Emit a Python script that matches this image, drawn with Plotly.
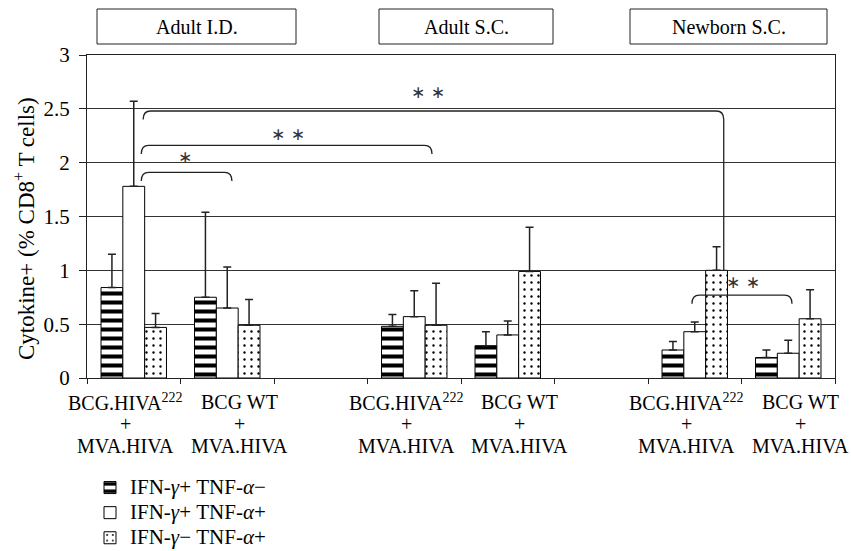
import plotly.graph_objects as go

# ---------------- data ----------------
tick_labels = [
    "BCG.HIVA<sup>222</sup><br>+<br>MVA.HIVA",
    "BCG WT<br>+<br>MVA.HIVA",
    "",
    "BCG.HIVA<sup>222</sup><br>+<br>MVA.HIVA",
    "BCG WT<br>+<br>MVA.HIVA",
    "",
    "BCG.HIVA<sup>222</sup><br>+<br>MVA.HIVA",
    "BCG WT<br>+<br>MVA.HIVA",
]
x_pos = [0, 1, 2, 3, 4, 5, 6, 7]

series_names = [
    "IFN-<i>γ</i>+ TNF-<i>α</i>−",
    "IFN-<i>γ</i>+ TNF-<i>α</i>+",
    "IFN-<i>γ</i>− TNF-<i>α</i>+",
]
ifn_pos_tnf_neg = [0.84, 0.75, None, 0.48, 0.30, None, 0.26, 0.19]
ifn_pos_tnf_pos = [1.78, 0.65, None, 0.57, 0.40, None, 0.43, 0.23]
ifn_neg_tnf_pos = [0.47, 0.49, None, 0.49, 0.99, None, 1.00, 0.55]

# upper ends of the error bars
ifn_pos_tnf_neg_hi = [1.15, 1.54, None, 0.59, 0.43, None, 0.34, 0.26]
ifn_pos_tnf_pos_hi = [2.57, 1.03, None, 0.81, 0.53, None, 0.52, 0.35]
ifn_neg_tnf_pos_hi = [0.60, 0.73, None, 0.88, 1.40, None, 1.22, 0.82]

group_titles = ["Adult I.D.", "Adult S.C.", "Newborn S.C."]

y_title = "Cytokine+ (% CD8<sup>+</sup> T cells)"

# significance brackets: (x_left, x_right, y_top, y_left_end, y_right_end, label, label_x, label_y)
brackets = [
    (0.08, 1.05, 1.91, 1.83, 1.83, "∗", 0.55, 2.05),
    (0.08, 3.19, 2.16, 2.08, 2.08, "∗ ∗", 1.65, 2.27),
    (0.10, 6.31, 2.48, 2.40, 1.00, "∗ ∗", 3.15, 2.66),
    (5.97, 7.04, 0.77, 0.69, 0.69, "∗ ∗", 6.52, 0.89),
]

# ---------------- figure ----------------
FONT = "Liberation Serif"
W, H = 851, 551
ML, MR, MT, MB = 87, 16, 55, 173

values = [ifn_pos_tnf_neg, ifn_pos_tnf_pos, ifn_neg_tnf_pos]
highs = [ifn_pos_tnf_neg_hi, ifn_pos_tnf_pos_hi, ifn_neg_tnf_pos_hi]
patterns = [
    dict(shape="-", fgcolor="black", bgcolor="white", size=9, solidity=0.45, fillmode="replace"),
    dict(shape="", fgcolor="black", bgcolor="white"),
    dict(shape=".", fgcolor="black", bgcolor="white", size=7, solidity=0.09, fillmode="replace"),
]

fig = go.Figure()
for i, (name, v, hi, pat) in enumerate(zip(series_names, values, highs, patterns)):
    err = [None if (a is None or b is None) else b - a for a, b in zip(v, hi)]
    fig.add_trace(go.Bar(
        x=x_pos, y=v, name=f'<span style="font-size:21px">{name}</span>',
        marker=dict(color="white", line=dict(color="black", width=1), pattern=pat),
        error_y=dict(type="data", array=err, symmetric=False,
                     arrayminus=[0] * len(err), color="#222", thickness=1.5, width=4),
        legendgroup=f"g{i}",
    ))


def px_to_paper_x(px):
    return (px - ML) / (W - ML - MR)


def px_to_paper_y(py):
    return (H - MB - py) / (H - MT - MB)


# top group boxes (pixel geometry)
box_px = [(97, 296), (379, 553), (630, 827)]
for (x0, x1), title in zip(box_px, group_titles):
    fig.add_shape(type="rect", xref="paper", yref="paper",
                  x0=px_to_paper_x(x0), x1=px_to_paper_x(x1),
                  y0=px_to_paper_y(44), y1=px_to_paper_y(9),
                  line=dict(color="#222", width=1), fillcolor="white")
    fig.add_annotation(xref="paper", yref="paper",
                       x=px_to_paper_x((x0 + x1) / 2), y=px_to_paper_y(27),
                       xanchor="center", yanchor="middle",
                       text=title, showarrow=False,
                       font=dict(family=FONT, size=20, color="black"))

# category labels under the axis (one annotation per line, tight line spacing)
LINE_Y = [402, 424, 446]
for xp, lab in zip(x_pos, tick_labels):
    if not lab:
        continue
    shift = -8 if "HIVA<sup>" in lab else 12
    for k, line in enumerate(lab.split("<br>")):
        fig.add_annotation(x=xp, xref="x", y=px_to_paper_y(LINE_Y[k]), yref="paper",
                           xanchor="center", yanchor="middle", xshift=shift,
                           text=line, showarrow=False,
                           font=dict(family=FONT, size=20, color="black"))

# y axis title
fig.add_annotation(xref="paper", yref="paper", x=px_to_paper_x(24), y=px_to_paper_y(229),
                   xanchor="center", yanchor="middle", textangle=-90,
                   text=y_title, showarrow=False,
                   font=dict(family=FONT, size=23, color="black"))

# brackets
for (xl, xr, yt, yl, yr, lab, lx, ly) in brackets:
    dx, hh = 0.08, 0.08
    path = (f"M {xl},{yl} L {xl},{yt - hh} Q {xl},{yt} {xl + dx},{yt} "
            f"L {xr - dx},{yt} Q {xr},{yt} {xr},{yt - hh} L {xr},{yr}")
    fig.add_shape(type="path", xref="x", yref="y", path=path,
                  line=dict(color="#222", width=1.3))
    fig.add_annotation(x=lx, y=ly, xref="x", yref="y", text=lab, showarrow=False,
                       font=dict(family="DejaVu Sans", size=17, color="#333"))

fig.update_layout(
    width=W, height=H,
    margin=dict(l=ML, r=MR, t=MT, b=MB, autoexpand=False),
    paper_bgcolor="white", plot_bgcolor="white",
    barmode="group", bargap=0.3, bargroupgap=0,
    font=dict(family=FONT, size=20, color="black"),
    showlegend=True,
    legend=dict(x=px_to_paper_x(90), y=px_to_paper_y(470), xanchor="left", yanchor="top",
                orientation="v", tracegroupgap=0, bgcolor="rgba(0,0,0,0)",
                font=dict(family=FONT, size=17, color="black")),
)
fig.update_xaxes(
    range=[-0.5, 7.5], tickmode="array", tickvals=x_pos, showticklabels=False,
    ticks="", showline=True, linecolor="#222", linewidth=1.3, mirror=True,
    showgrid=False, zeroline=False, automargin=False,
    minor=dict(tick0=-0.5, dtick=1, ticks="outside", ticklen=5, tickcolor="#222", tickwidth=1.3),
)
fig.update_yaxes(
    range=[0, 3], dtick=0.5, ticks="outside", ticklen=7, tickcolor="#222", tickwidth=1.3,
    showline=True, linecolor="#222", linewidth=1.3, mirror=True,
    showgrid=True, gridcolor="#333", gridwidth=1, zeroline=False, automargin=False,
    ticklabelstandoff=5,
    tickfont=dict(family=FONT, size=21, color="black"),
)

fig.write_html("out.html", config={"displayModeBar": False},
               post_script="document.body.style.margin='0px';document.body.style.overflow='hidden';")
